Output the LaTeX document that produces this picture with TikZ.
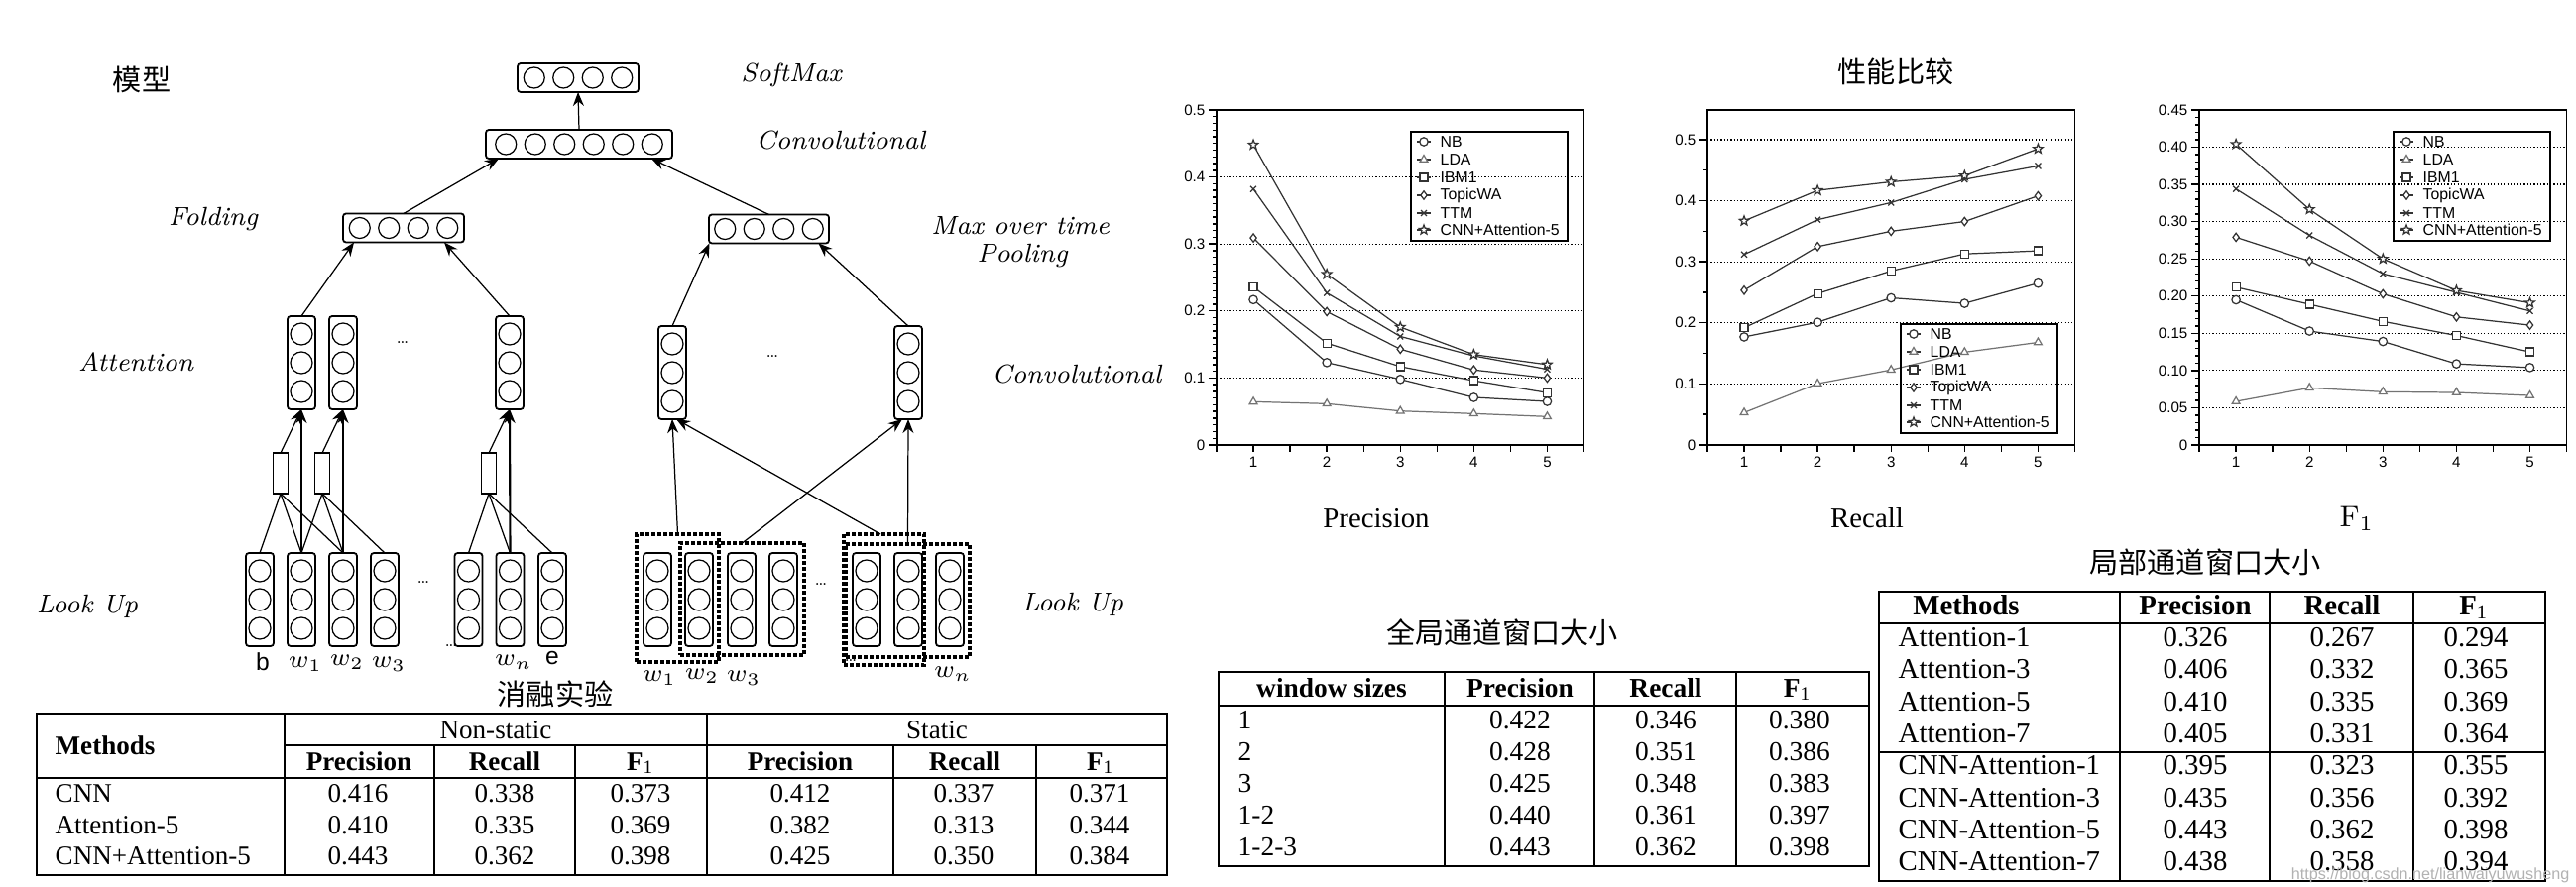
\documentclass[tikz,border=0pt]{standalone}
\usepackage{fontspec}
\newfontfamily\tnr{Liberation Serif}
\newfontfamily\arial{Liberation Sans}
\newfontfamily\cjk{Noto Sans CJK SC}
\usetikzlibrary{arrows.meta,plotmarks}
\pgfdeclareplotmark{ostar}{%
 \pgfpathmoveto{\pgfqpointpolar{90}{\pgfplotmarksize}}%
 \pgfpathlineto{\pgfqpointpolar{126}{.42\pgfplotmarksize}}%
 \pgfpathlineto{\pgfqpointpolar{162}{\pgfplotmarksize}}%
 \pgfpathlineto{\pgfqpointpolar{198}{.42\pgfplotmarksize}}%
 \pgfpathlineto{\pgfqpointpolar{234}{\pgfplotmarksize}}%
 \pgfpathlineto{\pgfqpointpolar{270}{.42\pgfplotmarksize}}%
 \pgfpathlineto{\pgfqpointpolar{306}{\pgfplotmarksize}}%
 \pgfpathlineto{\pgfqpointpolar{342}{.42\pgfplotmarksize}}%
 \pgfpathlineto{\pgfqpointpolar{18}{\pgfplotmarksize}}%
 \pgfpathlineto{\pgfqpointpolar{54}{.42\pgfplotmarksize}}%
 \pgfpathclose\pgfusepathqfillstroke}
\tikzset{
 hbx/.style={draw, line width=0.5pt, rounded corners=0.3mm, inner sep=0, outer sep=0, minimum height=2.9mm},
 vbx/.style={draw, line width=0.5pt, rounded corners=0.3mm, inner sep=0, outer sep=0, minimum width=2.8mm, minimum height=9.4mm},
 circ/.style={line width=0.35pt},
 wbx/.style={draw, line width=0.55pt, inner sep=0, outer sep=0, minimum width=1.5mm, minimum height=4.1mm},
 dbx/.style={draw, line width=1.05pt, dash pattern=on 0.38mm off 0.22mm, inner sep=0, outer sep=0},
 arr/.style={-{Stealth[length=1.4mm,width=1.1mm]}, line width=0.35pt},
 thk/.style={line width=0.6pt},
 thn/.style={line width=0.35pt},
 lab/.style={font=\itshape\fontsize{7.5}{9}\selectfont, inner sep=0},
 cj/.style={font=\cjk\fontsize{8.3}{10}\selectfont, inner sep=0},
 dots/.style={font=\fontsize{4.5}{5}\selectfont, inner sep=0},
 wl/.style={font=\fontsize{7.5}{9}\selectfont, inner sep=0},
 sl/.style={font=\arial\fontsize{7}{8}\selectfont, inner sep=0},
 tb/.style={line width=0.55pt},
 tL/.style={font=\tnr\fontsize{7.7}{9}\selectfont, inner sep=0, text height=5.2pt, text depth=0pt},
 tM/.style={font=\tnr\fontsize{7.8}{9}\selectfont, inner sep=0, text height=5.3pt, text depth=0pt},
 tR/.style={font=\tnr\fontsize{8.2}{9.5}\selectfont, inner sep=0, text height=5.6pt, text depth=0pt},
 capt/.style={font=\tnr\fontsize{8.2}{9.5}\selectfont, inner sep=0},
 fr/.style={line width=0.5pt},
 tick/.style={line width=0.4pt},
 grd/.style={line width=0.35pt, dash pattern=on 0.35pt off 0.6pt},
 tkl/.style={font=\arial\fontsize{4.3}{5}\selectfont, inner sep=0},
 lgt/.style={font=\arial\fontsize{4.5}{5.4}\selectfont, inner sep=0},
 lgbox/.style={draw, line width=0.45pt, inner sep=0, outer sep=0},
 dline/.style={draw=black!80, line width=0.35pt},
 sNB/.style={dline, mark=*, mark size=0.42mm, mark options={fill=white}},
 sLDA/.style={dline, draw=black!55, mark=triangle*, mark size=0.45mm, mark options={fill=white}},
 sIBM/.style={dline, mark=square*, mark size=0.4mm, mark options={fill=white}},
 sTWA/.style={dline, mark=diamond*, mark size=0.42mm, mark options={fill=white}},
 sTTM/.style={dline, mark=x, mark size=0.42mm},
 sCNN/.style={dline, mark=ostar, mark size=0.5mm, mark options={fill=white}},
 wm/.style={font=\arial\fontsize{4.6}{5.5}\selectfont, text=black!30, inner sep=0}
}
\newcommand\vcol[3]{\node[vbx] (#1) at (#2,#3) {};
 \foreach \dd in {-2.9,0,2.9} \draw[circ] ([yshift=\dd mm]#1.center) circle[radius=1.1mm];}
\newcommand\hrow[5]{\node[hbx, minimum width=#5mm] (#1) at (#2,#3) {};
 \foreach \k in {1,...,#4} \draw[circ] ([xshift={(\k-(#4+1)/2)*2.95mm}]#1.center) circle[radius=1.05mm];}
\newcommand\ser[6]{\draw[#1] plot coordinates {(1,#2) (2,#3) (3,#4) (4,#5) (5,#6)};}
\newcommand\lgent[5]{\draw[dline] (#2+6,#3) -- (#2+20,#3);
 \draw[#4, only marks] plot coordinates {(#2+13,#3)};
 \node[lgt, anchor=west] (#1) at (#2+29,#3) {#5};}
\newcommand\lgd[3]{%
 \node[lgbox, minimum width=15.8mm, minimum height=11mm, anchor=north west] (#1) at (#2,#3) {};
 \lgent{#1a}{#2}{#3+10}{sNB}{NB}
 \lgent{#1b}{#2}{#3+28}{sLDA}{LDA}
 \lgent{#1c}{#2}{#3+46}{sIBM}{IBM1}
 \lgent{#1d}{#2}{#3+64}{sTWA}{TopicWA}
 \lgent{#1e}{#2}{#3+82}{sTTM}{TTM}
 \lgent{#1f}{#2}{#3+99}{sCNN}{CNN+Attention-5}}
\begin{document}
\begin{tikzpicture}[x=0.1mm,y=-0.1mm]
\fill[white] (0,0) rectangle (2598,895);
\useasboundingbox (0,0) rectangle (2598,895);

% ================= model =================
\node[cj] (tmodel) at (143,80) {模型};
\hrow{soft}{583}{78.5}{4}{12.2}
\hrow{convh}{584}{145.5}{6}{18.8}
\hrow{fold}{407}{230}{4}{12.2}
\hrow{maxp}{775.5}{231}{4}{12.1}
\vcol{att1}{304}{366}
\vcol{att2}{346}{366}
\vcol{att3}{514}{366}
\vcol{cc1}{678}{376}
\vcol{cc2}{916}{376}
\vcol{lb}{262}{605}
\vcol{lw1}{304}{605}
\vcol{lw2}{346}{605}
\vcol{lw3}{388}{605}
\vcol{lx}{472.5}{605}
\vcol{lwn}{514.5}{605}
\vcol{le}{557}{605}
\vcol{rw1}{663}{605}
\vcol{rw2}{705}{605}
\vcol{rw3}{748}{605}
\vcol{rw4}{790}{605}
\vcol{rx1}{874}{605}
\vcol{rx2}{916}{605}
\vcol{rwn}{958}{605}
\node[wbx] (r1) at (283,477.5) {};
\node[wbx] (r2) at (325,477.5) {};
\node[wbx] (r3) at (493,477.5) {};
\node[dbx, minimum width=8.3mm, minimum height=12.9mm] (d1) at (683.5,603.5) {};
\node[dbx, minimum width=12.5mm, minimum height=11.3mm] (d2) at (748.5,604.5) {};
\node[dbx, minimum width=8.1mm, minimum height=13.2mm] (d3) at (891.5,605) {};
\node[dbx, minimum width=12.5mm, minimum height=11.4mm] (d4) at (915.5,606) {};

\draw[thn] (r1.south) -- (lb.north);
\draw[thn] (r1.south) -- (lw1.north);
\draw[thn] (r1.south) -- (lw2.north);
\draw[thn] (r2.south) -- (lw1.north);
\draw[thn] (r2.south) -- (lw2.north);
\draw[thn] (r2.south) -- (lw3.north);
\draw[thn] (r3.south) -- (lx.north);
\draw[thn] (r3.south) -- (lwn.north);
\draw[thn] (r3.south) -- (le.north);
\draw[arr, thk] (lw1.north) -- (att1.south);
\draw[arr] (r1.north) -- (att1.south);
\draw[arr, thk] (lw2.north) -- (att2.south);
\draw[arr] (r2.north) -- (att2.south);
\draw[arr, thk] (lwn.north) -- (att3.south);
\draw[arr] (r3.north) -- (att3.south);
\draw[arr] (att1.north) -- ([xshift=-5mm]fold.south);
\draw[arr] (att3.north) -- ([xshift=4.1mm]fold.south);
\draw[arr] (fold.north) -- ([xshift=-8.1mm]convh.south);
\draw[arr] (maxp.north) -- ([xshift=7.3mm]convh.south);
\draw[arr] (convh.north) -- (soft.south);
\draw[arr] (cc1.north) -- ([xshift=-6mm]maxp.south);
\draw[arr] (cc2.north) -- ([xshift=5mm]maxp.south);
\draw[arr] (d1.north) -- (cc1.south);
\draw[arr] ([xshift=-0.35mm]d3.north) -- ([xshift=0.4mm]cc1.south);
\draw[arr] (d2.north) -- ([xshift=-0.6mm]cc2.south);
\draw[arr] (d4.north) -- (cc2.south);

\node[lab] (tsoft) at (798,76) {SoftMax};
\node[lab] (tconv) at (848,142) {Convolutional};
\node[lab] (tfold) at (215,221) {Folding};
\node[lab] (tmax) at (1029,228) {Max over time};
\node[lab] (tpool) at (1031,258) {Pooling};
\node[lab] (tatt) at (137,365) {Attention};
\node[lab] (tconv2) at (1086,378) {Convolutional};
\node[lab] (tlook) at (88,612) {Look Up};
\node[lab] (tlook2) at (1082,610) {Look Up};
\node[dots] (dt1) at (406,346) {\ldots};
\node[dots] (dt2) at (779,360) {\ldots};
\node[dots] (dt3) at (427,588) {\ldots};
\node[dots] (dt4) at (455,652) {\ldots};
\node[dots] (dt5) at (828,590) {\ldots};
\node[dots] (dt6) at (858,667) {\ldots};
\node[sl] (lbb) at (265,668) {b};
\node[wl] (lbw1) at (308,670) {$w_1$};
\node[wl] (lbw2) at (350,668) {$w_2$};
\node[wl] (lbw3) at (392,670) {$w_3$};
\node[wl] (lbwn) at (518,668) {$w_n$};
\node[sl] (lbe) at (557,664) {e};
\node[wl] (rbw1) at (665,684) {$w_1$};
\node[wl] (rbw2) at (708,682) {$w_2$};
\node[wl] (rbw3) at (750,684) {$w_3$};
\node[wl] (rbwn) at (961,680) {$w_n$};

% ================= ablation table =================
\node[cj] (tabl) at (560,700) {消融实验};
\draw[tb] (37,720) rectangle (1177,883);
\draw[tb] (287,752) -- (1177,752);
\draw[tb] (37,785) -- (1177,785);
\draw[tb] (287,720) -- (287,883);
\draw[tb] (713,720) -- (713,883);
\foreach \xx in {438,580,901,1045} \draw[tb] (\xx,752) -- (\xx,883);
\node[tL, font=\tnr\bfseries\fontsize{7.7}{9}\selectfont, anchor=west] (la0) at (55,752) {Methods};
\node[tL] (la1) at (500,736) {Non-static};
\node[tL] (la2) at (945,736) {Static};
\node[tL, font=\tnr\bfseries\fontsize{7.7}{9}\selectfont] (la3) at (362,768) {Precision};
\node[tL, font=\tnr\bfseries\fontsize{7.7}{9}\selectfont] (la4) at (509,768) {Recall};
\node[tL, font=\tnr\bfseries\fontsize{7.7}{9}\selectfont] (la5) at (646,768) {F\textsubscript{\mdseries 1}};
\node[tL, font=\tnr\bfseries\fontsize{7.7}{9}\selectfont] (la6) at (807,768) {Precision};
\node[tL, font=\tnr\bfseries\fontsize{7.7}{9}\selectfont] (la7) at (973,768) {Recall};
\node[tL, font=\tnr\bfseries\fontsize{7.7}{9}\selectfont] (la8) at (1110,768) {F\textsubscript{\mdseries 1}};
\foreach \yy/\na/\va/\vb/\vc/\vd/\ve/\vf [count=\i] in
 {800/CNN/0.416/0.338/0.373/0.412/0.337/0.371,
  832/Attention-5/0.410/0.335/0.369/0.382/0.313/0.344,
  863/CNN+Attention-5/0.443/0.362/0.398/0.425/0.350/0.384} {
 \node[tL, anchor=west] (lan\i) at (55,\yy) {\na};
 \node[tL] (laa\i) at (361,\yy) {\va};
 \node[tL] (lab\i) at (509,\yy) {\vb};
 \node[tL] (lac\i) at (646,\yy) {\vc};
 \node[tL] (lad\i) at (807,\yy) {\vd};
 \node[tL] (lae\i) at (972,\yy) {\ve};
 \node[tL] (laf\i) at (1109,\yy) {\vf};
}

% ================= global window table =================
\node[cj] (tglob) at (1515,638) {全局通道窗口大小};
\draw[tb] (1229,678) rectangle (1885,874);
\draw[tb] (1229,712) -- (1885,712);
\foreach \xx in {1457,1608,1751} \draw[tb] (\xx,678) -- (\xx,874);
\node[tM, font=\tnr\bfseries\fontsize{7.8}{9}\selectfont] (gm0) at (1343,694) {window sizes};
\node[tM, font=\tnr\bfseries\fontsize{7.8}{9}\selectfont] (gm1) at (1533,694) {Precision};
\node[tM, font=\tnr\bfseries\fontsize{7.8}{9}\selectfont] (gm2) at (1680,694) {Recall};
\node[tM, font=\tnr\bfseries\fontsize{7.8}{9}\selectfont] (gm3) at (1813,694) {F\textsubscript{\mdseries 1}};
\foreach \yy/\na/\va/\vb/\vc [count=\i] in
 {726/1/0.422/0.346/0.380, 758/2/0.428/0.351/0.386, 790/3/0.425/0.348/0.383,
  822/1-2/0.440/0.361/0.397, 854/1-2-3/0.443/0.362/0.398} {
 \node[tM, anchor=west] (gn\i) at (1248,\yy) {\na};
 \node[tM] (ga\i) at (1533,\yy) {\va};
 \node[tM] (gb\i) at (1680,\yy) {\vb};
 \node[tM] (gc\i) at (1815,\yy) {\vc};
}

% ================= local window table =================
\node[cj] (tloc) at (2224,567) {局部通道窗口大小};
\draw[tb] (1895,597) rectangle (2567,889);
\draw[tb] (1895,629) -- (2567,629);
\draw[tb] (1895,759) -- (2567,759);
\foreach \xx in {2138,2289,2434} \draw[tb] (\xx,597) -- (\xx,889);
\node[tR, font=\tnr\bfseries\fontsize{8.2}{9.5}\selectfont] (lm0) at (1983,611) {Methods};
\node[tR, font=\tnr\bfseries\fontsize{8.2}{9.5}\selectfont] (lm1) at (2214,611) {Precision};
\node[tR, font=\tnr\bfseries\fontsize{8.2}{9.5}\selectfont] (lm2) at (2362,611) {Recall};
\node[tR, font=\tnr\bfseries\fontsize{8.2}{9.5}\selectfont] (lm3) at (2495,611) {F\textsubscript{\mdseries 1}};
\foreach \yy/\na/\va/\vb/\vc [count=\i] in
 {643/Attention-1/0.326/0.267/0.294, 675/Attention-3/0.406/0.332/0.365,
  708/Attention-5/0.410/0.335/0.369, 740/Attention-7/0.405/0.331/0.364,
  772/CNN-Attention-1/0.395/0.323/0.355, 805/CNN-Attention-3/0.435/0.356/0.392,
  837/CNN-Attention-5/0.443/0.362/0.398, 869/CNN-Attention-7/0.438/0.358/0.394} {
 \node[tR, anchor=west] (pn\i) at (1914,\yy) {\na};
 \node[tR] (pa\i) at (2214,\yy) {\va};
 \node[tR] (pb\i) at (2362,\yy) {\vb};
 \node[tR] (pc\i) at (2497,\yy) {\vc};
}
\node[wm, anchor=east] (wmk) at (2592,883) {https://blog.csdn.net/lianwaiyuwusheng};

% ================= charts =================
\node[cj] (tperf) at (1912,72) {性能比较};
\node[capt] (cap1) at (1388,523) {Precision};
\node[capt] (cap2) at (1883,523) {Recall};
\node[inner sep=0, font=\fontsize{8.5}{10}\selectfont] (cap3) at (2377,523) {$\mathrm{F}_1$};

% chart 1
\begin{scope}[shift={(1189.95,449)}, x=7.41mm, y=67.6mm]
 \foreach \v in {0.1,0.2,0.3,0.4} \draw[grd] (0.5,\v) -- (5.5,\v);
 \foreach \k in {1,...,49} \draw[tick] (0.5,\k/100) -- ++(-0.4mm,0);
 \foreach \v/\l [count=\i] in {0/0,0.1/0.1,0.2/0.2,0.3/0.3,0.4/0.4,0.5/0.5} {
  \draw[tick] (0.5,\v) -- ++(-0.8mm,0);
  \node[tkl, anchor=east, xshift=-1.1mm] (ay\i) at (0.5,\v) {\l};}
 \foreach \k in {0,...,10} \draw[tick] ({0.5+0.5*\k},0) -- ++(0,-0.7mm);
 \foreach \i in {1,...,5} \node[tkl, anchor=north, yshift=-1.1mm] (ax\i) at (\i,0) {\i};
 \draw[fr] (0.5,0) rectangle (5.5,0.5);
 \ser{sLDA}{0.0645}{0.0616}{0.0507}{0.0468}{0.0424}
 \ser{sNB}{0.217}{0.123}{0.098}{0.071}{0.065}
 \ser{sIBM}{0.236}{0.152}{0.117}{0.096}{0.078}
 \ser{sTWA}{0.309}{0.199}{0.143}{0.112}{0.100}
 \ser{sTTM}{0.382}{0.227}{0.162}{0.133}{0.113}
 \ser{sCNN}{0.448}{0.255}{0.176}{0.135}{0.120}
\end{scope}
\lgd{lg1}{1423}{133}

% chart 2
\begin{scope}[shift={(1684.9,449)}, x=7.41mm, y=61.6mm]
 \foreach \v in {0.1,0.2,0.3,0.4,0.5} \draw[grd] (0.5,\v) -- (5.5,\v);
 \foreach \k in {1,3,5,7,9} \draw[tick] (0.5,\k/20) -- ++(-0.4mm,0);
 \foreach \v/\l [count=\i] in {0/0,0.1/0.1,0.2/0.2,0.3/0.3,0.4/0.4,0.5/0.5} {
  \draw[tick] (0.5,\v) -- ++(-0.8mm,0);
  \node[tkl, anchor=east, xshift=-1.1mm] (by\i) at (0.5,\v) {\l};}
 \foreach \k in {0,...,10} \draw[tick] ({0.5+0.5*\k},0) -- ++(0,-0.7mm);
 \foreach \i in {1,...,5} \node[tkl, anchor=north, yshift=-1.1mm] (bx\i) at (\i,0) {\i};
 \draw[fr] (0.5,0) rectangle (5.5,0.5487);
 \ser{sLDA}{0.053}{0.1005}{0.123}{0.152}{0.168}
 \ser{sNB}{0.177}{0.201}{0.241}{0.232}{0.265}
 \ser{sIBM}{0.192}{0.248}{0.285}{0.313}{0.318}
 \ser{sTWA}{0.2535}{0.325}{0.350}{0.366}{0.408}
 \ser{sTTM}{0.312}{0.369}{0.397}{0.435}{0.457}
 \ser{sCNN}{0.367}{0.417}{0.431}{0.441}{0.485}
\end{scope}
\lgd{lg2}{1917}{327}

% chart 3
\begin{scope}[shift={(2181,449)}, x=7.41mm, y=75.11mm]
 \foreach \v in {0.05,0.1,0.15,0.2,0.25,0.3,0.35,0.4} \draw[grd] (0.5,\v) -- (5.5,\v);
 \foreach \k in {1,...,44} \draw[tick] (0.5,\k/100) -- ++(-0.4mm,0);
 \foreach \v/\l [count=\i] in {0/0,0.05/0.05,0.1/0.10,0.15/0.15,0.2/0.20,0.25/0.25,0.3/0.30,0.35/0.35,0.4/0.40,0.45/0.45} {
  \draw[tick] (0.5,\v) -- ++(-0.8mm,0);
  \node[tkl, anchor=east, xshift=-1.1mm] (cy\i) at (0.5,\v) {\l};}
 \foreach \k in {0,...,10} \draw[tick] ({0.5+0.5*\k},0) -- ++(0,-0.7mm);
 \foreach \i in {1,...,5} \node[tkl, anchor=north, yshift=-1.1mm] (cx\i) at (\i,0) {\i};
 \draw[fr] (0.5,0) rectangle (5.5,0.45);
 \ser{sLDA}{0.0585}{0.0767}{0.0714}{0.0705}{0.0665}
 \ser{sNB}{0.195}{0.153}{0.139}{0.109}{0.104}
 \ser{sIBM}{0.212}{0.189}{0.166}{0.147}{0.125}
 \ser{sTWA}{0.279}{0.247}{0.203}{0.172}{0.161}
 \ser{sTTM}{0.344}{0.2815}{0.230}{0.205}{0.180}
 \ser{sCNN}{0.404}{0.3165}{0.250}{0.2075}{0.191}
\end{scope}
\lgd{lg3}{2414}{133}
\end{tikzpicture}
\end{document}
